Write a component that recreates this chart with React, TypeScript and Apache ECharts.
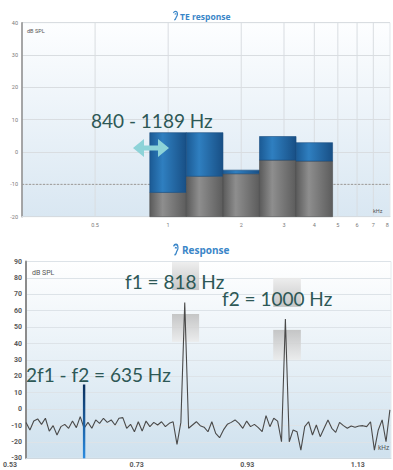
import React, { useEffect, useRef } from "react";
import * as echarts from "echarts";

// ---------- Top chart: TE response (half-octave bands) ----------
const TOP_TICKS_KHZ = [0.5, 1, 2, 3, 4, 5, 6, 7, 8];
const TOP_X_MIN_KHZ = 0.25;
const TOP_X_MAX_KHZ = 8.2;
const TOP_Y_MIN = -20;
const TOP_Y_MAX = 40;
const BAND_LOW_KHZ = [0.84, 1.189, 1.682, 2.378, 3.364];
const BAND_HIGH_KHZ = [1.189, 1.682, 2.378, 3.364, 4.757];
const BAND_SIGNAL_DB = [6.0, 6.0, -5.6, 4.8, 2.9];
const BAND_NOISE_DB = [-12.5, -7.5, -6.7, -2.5, -2.8];
const TOP_CRITERION_DB = -10;

// ---------- Bottom chart: DPOAE response spectrum ----------
const BOTTOM_TICKS_KHZ = [0.53, 0.73, 0.93, 1.13];
const BOTTOM_X_MIN = 0.53;
const BOTTOM_X_MAX = 1.19;
const BOTTOM_Y_MIN = -30;
const BOTTOM_Y_MAX = 90;
const SPEC_START_KHZ = 0.53;
const SPEC_STEP_KHZ = 0.007;
const SPEC_LEVEL_DB = [
  -8.1, -12.7, -7.3, -6.0, -9.3, -5.6, -13.4, -10.1, -15.8, -10.7,
  -9.3, -11.7, -7.3, -11.3, -4.6, -11.7, -8.1, -11.7, -6.6, -8.7,
  -5.6, -8.1, -6.6, -9.7, -5.6, -5.2, -11.7, -9.3, -13.8, -7.7,
  -13.4, -7.3, -10.7, -8.1, -9.7, -7.7, -10.7, -8.7, -7.7, -21.5,
  -8.1, 65, -11.7, -9.7, -7.7, -10.1, -11.0, -13.8, -7.7, -14.8,
  -17.4, -12.7, -9.3, -8.1, -6.6, -8.7, -11.7, -7.3, -10.7, -9.3,
  -11.3, -13.8, -4.0, -10.7, -5.6, -7.3, -19.9, 55, -19.9, -12.7,
  -13.8, -25.0, -10.7, -7.7, -15.8, -9.7, -16.8, -11.7, -6.6, -11.7,
  -14.2, -8.1, -10.1, -11.7, -10.3, -11.1, -10.3, -10.1, -10.7, -7.7,
  -25.0, -12.7, -6.6, -19.9, -0.5,
];
const DP_FREQ_KHZ = 0.635;
const DP_LEVEL_DB = 15;
const BOX_LOW_KHZ = [0.794, 0.794, 0.977, 0.977];
const BOX_HIGH_KHZ = [0.843, 0.843, 1.027, 1.027];
const BOX_BOTTOM_DB = [72.6, 41, 62.3, 30];
const BOX_TOP_DB = [89.7, 58, 80, 48.3];
const BOX_SIDE = ["upper", "lower", "upper", "lower"];

const ANNOT_COLOR = "#2d5856";
const TITLE_BLUE = "#3a86c8";

echarts.graphic.registerShape(
  "ear",
  echarts.graphic.extendPath(
    "M2.5,3 C3.5,1.2 5,0.5 6.5,0.5 C8.7,0.5 10,2.5 10,5 C10,7.5 8,8.5 7.5,10 C7,12 6,13.5 4,13.5 M5.5,5.5 C5.5,4.2 7.5,4.2 7.5,5.5",
    {}
  ) as any
);

const log2 = (v: number) => Math.log(v) / Math.LN2;

export default function App() {
  const ref = useRef<HTMLDivElement>(null);

  useEffect(() => {
    if (!ref.current) return;
    const chart = echarts.init(ref.current, undefined, { renderer: "svg" });

    const topBg = new echarts.graphic.LinearGradient(0, 0, 0, 1, [
      { offset: 0, color: "#fdfeff" },
      { offset: 1, color: "#d9e7f2" },
    ]);
    const bottomBg = new echarts.graphic.LinearGradient(0, 0, 0, 1, [
      { offset: 0, color: "#ffffff" },
      { offset: 1, color: "#cfe1ee" },
    ]);
    const grayGrad = new echarts.graphic.LinearGradient(0, 0, 1, 0, [
      { offset: 0, color: "#5a5a5a" },
      { offset: 0.35, color: "#8e8e8e" },
      { offset: 1, color: "#5c5c5c" },
    ]);
    const blueGrad = new echarts.graphic.LinearGradient(0, 0, 1, 0, [
      { offset: 0, color: "#1b5a94" },
      { offset: 0.35, color: "#2f7fc0" },
      { offset: 1, color: "#184f85" },
    ]);

    const bandData = BAND_LOW_KHZ.map((lo, i) => [
      log2(lo),
      log2(BAND_HIGH_KHZ[i]),
      BAND_NOISE_DB[i],
      BAND_SIGNAL_DB[i],
    ]);
    const topTickLog = TOP_TICKS_KHZ.map(log2);
    const fmtKhz = (v: number) => String(Math.round(Math.pow(2, v) * 10) / 10);

    const specData = SPEC_LEVEL_DB.map((v, i) => [
      +(SPEC_START_KHZ + i * SPEC_STEP_KHZ).toFixed(4),
      v,
    ]);
    const boxData = BOX_LOW_KHZ.map((lo, i) => [lo, BOX_HIGH_KHZ[i], BOX_BOTTOM_DB[i], BOX_TOP_DB[i]]);

    const option: any = {
      animation: false,
      grid: [
        {
          left: 22,
          top: 22.7,
          width: 368,
          height: 194,
          show: true,
          backgroundColor: topBg,
          borderColor: "#e3e7eb",
          borderWidth: 1,
        },
        {
          left: 25,
          top: 261.5,
          width: 366,
          height: 196.8,
          show: true,
          backgroundColor: bottomBg,
          borderColor: "#e6eaee",
          borderWidth: 1,
        },
      ],
      xAxis: [
        {
          gridIndex: 0,
          type: "value",
          min: log2(TOP_X_MIN_KHZ),
          max: log2(TOP_X_MAX_KHZ),
          axisLine: { show: true, onZero: false, lineStyle: { color: "#d5dbe0" } },
          axisTick: { show: false },
          splitLine: { show: false },
          axisLabel: {
            customValues: topTickLog,
            formatter: fmtKhz,
            fontSize: 5.5,
            color: "#7a7a7a",
            margin: 5,
            fontFamily: "Roboto",
          },
        },
        {
          gridIndex: 1,
          type: "value",
          min: BOTTOM_X_MIN,
          max: BOTTOM_X_MAX,
          axisLine: { show: true, onZero: false, lineStyle: { color: "#cfd8df" } },
          axisTick: { show: false },
          splitLine: { show: false },
          axisLabel: {
            customValues: BOTTOM_TICKS_KHZ,
            formatter: (v: number) => {
              const s = v.toFixed(2);
              return Math.abs(v - BOTTOM_TICKS_KHZ[0]) < 1e-6 ? "{first|" + s + "}" : s;
            },
            rich: {
              first: { padding: [0, 32, 0, 0], fontSize: 7, color: "#5a5a5a", fontWeight: "bold", fontFamily: "Roboto" },
            },
            fontSize: 7,
            fontWeight: "bold",
            color: "#5a5a5a",
            margin: 3.5,
            fontFamily: "Roboto",
          },
        },
      ],
      yAxis: [
        {
          gridIndex: 0,
          type: "value",
          min: TOP_Y_MIN,
          max: TOP_Y_MAX,
          interval: 10,
          axisLine: { show: true, onZero: false, lineStyle: { color: "#8c8c8c", width: 1.5 } },
          axisTick: { show: false },
          splitLine: { show: true, lineStyle: { color: "#d9dde1", width: 1 } },
          axisLabel: { fontSize: 5.5, color: "#7a7a7a", margin: 4, fontFamily: "Roboto" },
        },
        {
          gridIndex: 1,
          type: "value",
          min: BOTTOM_Y_MIN,
          max: BOTTOM_Y_MAX,
          interval: 10,
          axisLine: { show: true, onZero: false, lineStyle: { color: "#8c8c8c", width: 2 } },
          axisTick: { show: false },
          splitLine: { show: true, lineStyle: { color: "#dde3e8", width: 1 } },
          axisLabel: { fontSize: 7, fontWeight: "bold", color: "#5a5a5a", margin: 4, fontFamily: "Roboto" },
        },
      ],
      series: [
        // vertical grid lines of the top chart
        {
          type: "custom",
          xAxisIndex: 0,
          yAxisIndex: 0,
          z: 1,
          silent: true,
          data: topTickLog.slice(0, topTickLog.length - 1).map((v) => [v]),
          renderItem: (_p: any, api: any) => {
            const a = api.coord([api.value(0), TOP_Y_MIN]);
            const b = api.coord([api.value(0), TOP_Y_MAX]);
            return {
              type: "line",
              shape: { x1: a[0], y1: a[1], x2: b[0], y2: b[1] },
              style: { stroke: "#d9dde1", lineWidth: 1 },
            };
          },
        },
        // dashed criterion line
        {
          type: "custom",
          xAxisIndex: 0,
          yAxisIndex: 0,
          z: 2,
          silent: true,
          data: [[log2(TOP_X_MIN_KHZ), TOP_CRITERION_DB]],
          renderItem: (_p: any, api: any) => {
            const a = api.coord([log2(TOP_X_MIN_KHZ), api.value(1)]);
            const b = api.coord([log2(TOP_X_MAX_KHZ), api.value(1)]);
            return {
              type: "line",
              shape: { x1: a[0], y1: a[1], x2: b[0], y2: b[1] },
              style: { stroke: "#9a9a9a", lineWidth: 1, lineDash: [2, 1.5] },
            };
          },
        },
        // bands
        {
          type: "custom",
          xAxisIndex: 0,
          yAxisIndex: 0,
          z: 3,
          data: bandData,
          renderItem: (_p: any, api: any) => {
            const lo = api.value(0);
            const hi = api.value(1);
            const nz = api.value(2);
            const sg = api.value(3);
            const a = api.coord([lo, TOP_Y_MIN]);
            const b = api.coord([hi, nz]);
            const c = api.coord([hi, sg]);
            const w = b[0] - a[0];
            const children: any[] = [
              {
                type: "rect",
                shape: { x: a[0], y: b[1], width: w, height: a[1] - b[1] },
                style: { fill: grayGrad, stroke: "#4e4e4e", lineWidth: 0.6 },
              },
            ];
            if (sg > nz) {
              children.push({
                type: "rect",
                shape: { x: a[0], y: c[1], width: w, height: b[1] - c[1] },
                style: { fill: blueGrad, stroke: "#1a4d80", lineWidth: 0.6 },
              });
            }
            return { type: "group", children };
          },
        },
        // tolerance boxes around primaries
        {
          type: "custom",
          xAxisIndex: 1,
          yAxisIndex: 1,
          z: 1,
          silent: true,
          data: boxData,
          renderItem: (p: any, api: any) => {
            const a = api.coord([api.value(0), api.value(3)]);
            const b = api.coord([api.value(1), api.value(2)]);
            const upper = BOX_SIDE[p.dataIndex] === "upper";
            const fill = new echarts.graphic.LinearGradient(0, 0, 0, 1, [
              { offset: 0, color: upper ? "#ebebeb" : "#bdbdbd" },
              { offset: 1, color: upper ? "#bdbdbd" : "#ebebeb" },
            ]);
            return {
              type: "rect",
              shape: { x: a[0], y: a[1], width: b[0] - a[0], height: b[1] - a[1] },
              style: { fill, opacity: 0.85 },
            };
          },
        },
        // response spectrum
        {
          type: "line",
          xAxisIndex: 1,
          yAxisIndex: 1,
          z: 3,
          data: specData,
          showSymbol: false,
          symbol: "none",
          lineStyle: { color: "#4a4a4a", width: 1.1 },
        },
        // 2f1-f2 distortion product
        {
          type: "custom",
          xAxisIndex: 1,
          yAxisIndex: 1,
          z: 4,
          data: [[DP_FREQ_KHZ, DP_LEVEL_DB]],
          renderItem: (_p: any, api: any) => {
            const top = api.coord([api.value(0), api.value(1)]);
            const bot = api.coord([api.value(0), BOTTOM_Y_MIN]);
            return {
              type: "rect",
              shape: { x: top[0] - 1.2, y: top[1], width: 2.4, height: bot[1] - top[1] },
              style: {
                fill: new echarts.graphic.LinearGradient(0, 0, 0, 1, [
                  { offset: 0, color: "#0b2f5c" },
                  { offset: 1, color: "#2a8be0" },
                ]),
              },
            };
          },
        },
      ],
      graphic: [
        // titles
        { type: "ear", x: 172, y: 11, scaleX: 0.55, scaleY: 0.65, z: 20, style: { stroke: TITLE_BLUE, fill: "none", lineWidth: 2 } },
        {
          type: "text",
          x: 180,
          y: 16,
          z: 20,
          style: { text: "TE response", fill: TITLE_BLUE, fontSize: 8.5, fontWeight: "bold", fontFamily: "Open Sans", textVerticalAlign: "middle" },
        },
        { type: "ear", x: 172, y: 244, scaleX: 0.6, scaleY: 0.8, z: 20, style: { stroke: TITLE_BLUE, fill: "none", lineWidth: 2 } },
        {
          type: "text",
          x: 182,
          y: 250,
          z: 20,
          style: { text: "Response", fill: TITLE_BLUE, fontSize: 10, fontWeight: "bold", fontFamily: "Open Sans", textVerticalAlign: "middle" },
        },
        // unit labels
        { type: "text", x: 27, y: 31, z: 20, style: { text: "dB SPL", fill: "#555", fontSize: 5.5, fontFamily: "Roboto", textVerticalAlign: "middle" } },
        { type: "text", x: 373, y: 211, z: 20, style: { text: "kHz", fill: "#555", fontSize: 5.5, fontFamily: "Roboto", textVerticalAlign: "middle" } },
        { type: "text", x: 32, y: 272.5, z: 20, style: { text: "dB SPL", fill: "#555", fontSize: 7, fontFamily: "Roboto", textVerticalAlign: "middle" } },
        { type: "text", x: 378, y: 448, z: 20, style: { text: "kHz", fill: "#555", fontSize: 6.5, fontFamily: "Roboto", textVerticalAlign: "middle" } },
        // double arrow
        {
          type: "polygon",
          z: 20,
          shape: {
            points: [
              [133, 148], [144, 139], [144, 145.5], [158, 145.5], [158, 139],
              [169, 148], [158, 157], [158, 150.5], [144, 150.5], [144, 157],
            ],
          },
          style: { fill: "#8dd3d8" },
        },
        // annotations
        { type: "text", x: 91, y: 120, z: 20, style: { text: "840 - 1189 Hz", fill: ANNOT_COLOR, fontSize: 19, fontFamily: "Lato", textVerticalAlign: "middle" } },
        { type: "text", x: 125, y: 281, z: 20, style: { text: "f1 = 818 Hz", fill: ANNOT_COLOR, fontSize: 19, fontFamily: "Lato", textVerticalAlign: "middle" } },
        { type: "text", x: 222, y: 298, z: 20, style: { text: "f2 = 1000 Hz", fill: ANNOT_COLOR, fontSize: 19, fontFamily: "Lato", textVerticalAlign: "middle" } },
        { type: "text", x: 26, y: 374, z: 20, style: { text: "2f1 - f2 = 635 Hz", fill: ANNOT_COLOR, fontSize: 19, fontFamily: "Lato", textVerticalAlign: "middle" } },
      ],
    };

    chart.setOption(option);
    return () => chart.dispose();
  }, []);

  return (
    <div
      ref={ref}
      style={{ position: "absolute", left: 0, top: 0, width: 393, height: 470, background: "#ffffff" }}
    />
  );
}
